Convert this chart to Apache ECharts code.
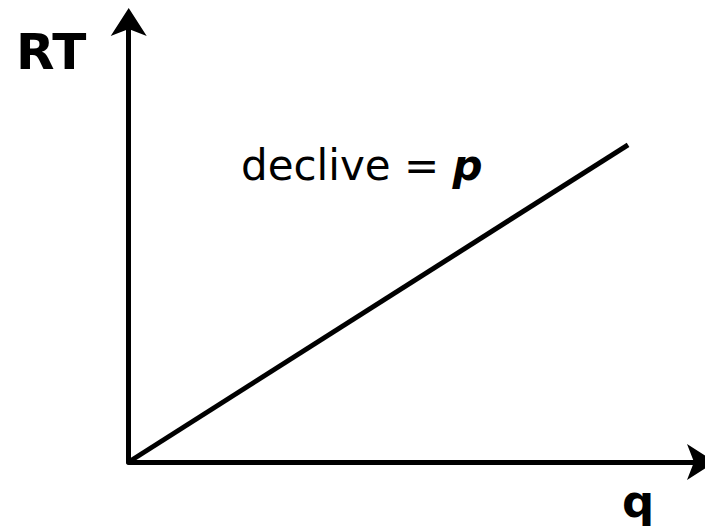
<!DOCTYPE html>
<html>
<head>
<meta charset="utf-8">
<script src="https://cdn.jsdelivr.net/npm/echarts@6/dist/echarts.min.js"></script>
<style>html,body{margin:0;padding:0;background:#fff;}#c{width:705px;height:528px;}</style>
</head>
<body>
<div id="c"></div>
<script>
// Data
const lineX = [0, 86.8];
const lineY = [0, 71.6];
const xAxisLabel = 'q';
const yAxisLabel = 'RT';
const slopeText = 'declive = ';
const slopeSymbol = 'p';

const chart = echarts.init(document.getElementById('c'), null, {renderer: 'svg'});
const font = 'DejaVu Sans';
const axisLine = {
  show: true,
  onZero: false,
  symbol: ['none', 'arrow'],
  symbolSize: [27, 28],
  symbolOffset: [0, 11],
  lineStyle: {color: '#000', width: 5}
};
chart.setOption({
  backgroundColor: '#fff',
  animation: false,
  grid: {left: 128.7, right: 1, top: 19, bottom: 66, containLabel: false},
  xAxis: {type: 'value', min: 0, max: 100, axisLine: axisLine, axisTick: {show: false}, axisLabel: {show: false}, splitLine: {show: false}},
  yAxis: {type: 'value', min: 0, max: 100, axisLine: axisLine, axisTick: {show: false}, axisLabel: {show: false}, splitLine: {show: false}},
  series: [{
    type: 'line',
    data: lineX.map((x, i) => [x, lineY[i]]),
    showSymbol: false,
    lineStyle: {color: '#000', width: 5},
    z: 1
  }],
  graphic: [
    {type: 'text', style: {text: yAxisLabel, font: 'bold 50px "' + font + '"', fill: '#000', x: 16, y: 52, verticalAlign: 'middle', textVerticalAlign: 'middle'}, silent: true},
    {type: 'text', style: {text: xAxisLabel, font: 'bold 45px "' + font + '"', fill: '#000', x: 622, y: 501, verticalAlign: 'middle', textVerticalAlign: 'middle'}, silent: true},
    {type: 'text', style: {
      text: '{n|' + slopeText + '}{b|' + slopeSymbol + '}',
      x: 241, y: 165, verticalAlign: 'middle', textVerticalAlign: 'middle',
      rich: {
        n: {fontFamily: font, fontSize: 42, color: '#000'},
        b: {fontFamily: font, fontSize: 42, fontWeight: 'bold', fontStyle: 'italic', color: '#000'}
      }
    }, silent: true}
  ]
});
</script>
</body>
</html>
